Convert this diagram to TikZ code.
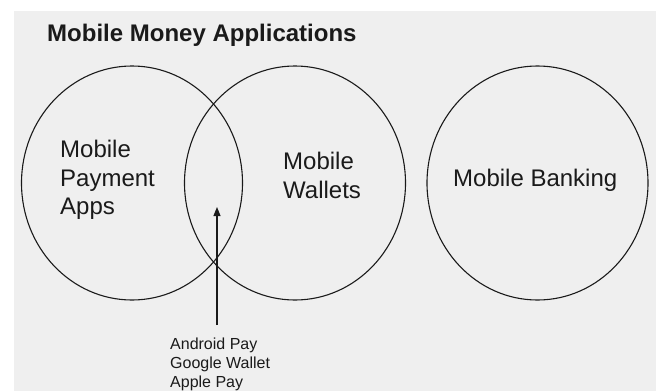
\documentclass[tikz,border=0pt]{standalone}
\usepackage{fontspec}
\usepackage{tikz}
\usetikzlibrary{shapes.geometric,arrows.meta}
\setmainfont{Liberation Sans}

\definecolor{panel}{HTML}{EFEFEF}
\definecolor{ink}{HTML}{1A1A1A}

\tikzset{
  bubble/.style={ellipse,draw=ink,line width=1.1pt,minimum width=221pt,minimum height=234pt,inner sep=0pt},
  biglabel/.style={anchor=north west,inner sep=0pt,align=left,text=ink,font=\fontsize{24}{28.5}\selectfont},
  smalllabel/.style={anchor=north west,inner sep=0pt,align=left,text=ink,font=\fontsize{16}{19}\selectfont},
  pointer/.style={draw=ink,line width=1.1pt,-{Triangle[length=9pt,width=7pt]}}
}

\begin{document}
\begin{tikzpicture}[x=1pt,y=-1pt]

\useasboundingbox (0,0) rectangle (656,391);
\fill[panel] (14,11) rectangle (656,391);

\node[anchor=north west,inner sep=0pt,text=ink,font=\fontsize{24}{28}\selectfont\bfseries] (title) at (47,24) {Mobile Money Applications};

% the three sets
\node[bubble] (payapps) at (132,183) {};
\node[bubble] (wallets) at (295,183) {};
\node[bubble] (banking) at (537.5,183) {};

\node[biglabel] (payapps-text) at (60,140) {Mobile\\Payment\\Apps};
\node[biglabel] (wallets-text) at (283,152) {Mobile\\Wallets};
\node[biglabel] (banking-text) at (453,169) {Mobile Banking};

% apps in the overlap
\node[smalllabel] (examples) at (170,338) {Android Pay\\Google Wallet\\Apple Pay};
\coordinate (tip) at (217,207);
\draw[pointer,shorten <=13pt] (examples.north -| tip) -- (tip);

\end{tikzpicture}
\end{document}
